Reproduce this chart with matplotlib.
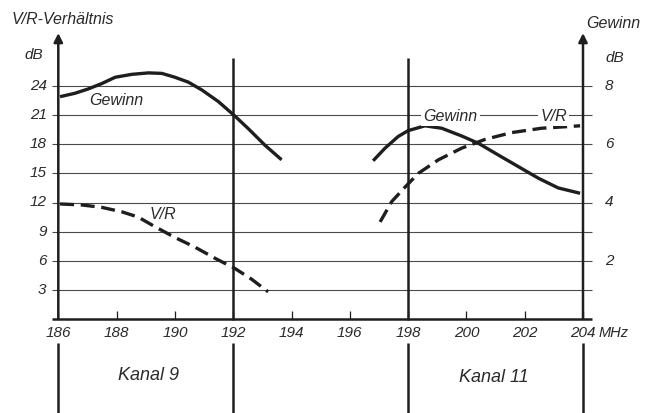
import numpy as np
import matplotlib
matplotlib.use("Agg")
import matplotlib.pyplot as plt

# Kanal 9 (186-192 MHz) and Kanal 11 (198-204 MHz)
k9_freq_gewinn = [186.06, 186.57, 187.03, 187.49, 187.95, 188.52, 189.09, 189.55, 190.0,
                  190.46, 190.92, 191.49, 192.06, 192.52, 193.09, 193.66]
k9_gewinn = [22.9, 23.25, 23.7, 24.25, 24.9, 25.2, 25.35, 25.3, 24.9,
             24.4, 23.6, 22.4, 20.9, 19.6, 17.9, 16.4]
k9_freq_vr = [186.06, 186.8, 187.49, 188.17, 188.74, 189.32, 190.0, 190.69, 191.38,
              192.06, 192.63, 193.2]
k9_vr = [11.85, 11.75, 11.5, 11.05, 10.5, 9.5, 8.4, 7.4, 6.25, 5.2, 4.1, 2.8]

k11_freq_gewinn = [196.8, 197.21, 197.66, 198.0, 198.58, 199.15, 199.84, 200.41, 201.09,
                   201.78, 202.47, 203.15, 203.9]
k11_gewinn = [16.3, 17.6, 18.8, 19.4, 19.9, 19.65, 18.85, 18.1, 16.9, 15.7, 14.5, 13.5, 12.95]
k11_freq_vr = [197.04, 197.44, 197.9, 198.35, 199.04, 199.84, 200.64, 201.55, 202.58, 203.9]
k11_vr = [10.0, 12.1, 13.6, 15.0, 16.4, 17.6, 18.5, 19.2, 19.65, 19.9]

x_ticks = [186, 188, 190, 192, 194, 196, 198, 200, 202, 204]
left_ticks = [3, 6, 9, 12, 15, 18, 21, 24]
right_ticks = [2, 4, 6, 8]          # Gewinn dB = left dB / 3
channel_edges = [186, 192, 198, 204]

ink = '#1e1e1e'
grid_c = '#4a4a4a'
fnt = dict(family=['Liberation Sans', 'DejaVu Sans'], style='italic', color='#2a2a2a')

fig = plt.figure(figsize=(6.57, 4.13), dpi=100)
ax = fig.add_axes([58.3 / 657, 1 - 319 / 413, (583 - 58.3) / 657, (319 - 86) / 413])
ax.set_xlim(186, 204)
ax.set_ylim(0, 24)
ax.axis('off')

# horizontal grid
ax.hlines(left_ticks, 185.78, 204.31, color=grid_c, lw=0.8, clip_on=False, zorder=1)
# x axis line
ax.hlines(0, 185.78, 204.31, color=ink, lw=1.8, clip_on=False, zorder=3)

# small ticks on x axis
for f in x_ticks:
    ax.vlines(f, 0, 0.8, color=ink, lw=0.9, clip_on=False)
    ax.text(f, -1.45, str(f), ha='center', va='center', fontsize=11, **fnt)
ax.text(204.55, -1.45, 'MHz', ha='left', va='center', fontsize=10.5, **fnt)

# vertical lines: axes with arrows, channel borders
for f in [186, 204]:
    ax.annotate('', xy=(f, 29.45), xytext=(f, 0), annotation_clip=False,
                arrowprops=dict(arrowstyle='-|>', lw=1.8, color=ink, mutation_scale=13,
                                shrinkA=0, shrinkB=0))
for f in [192, 198]:
    ax.vlines(f, -0.1, 26.9, color=ink, lw=1.8, clip_on=False, zorder=3)
ax.vlines(channel_edges, -10, -2.45, color=ink, lw=1.8, clip_on=False)

# left tick labels
for v in left_ticks:
    ax.text(185.6, v, str(v), ha='right', va='center', fontsize=11, **fnt)
# right tick labels
for v in right_ticks:
    ax.text(204.9, v * 3, str(v), ha='center', va='center', fontsize=11, **fnt)

# curves
kw = dict(color=ink, lw=2.4, solid_capstyle='butt', solid_joinstyle='round',
          zorder=4, clip_on=False)
ax.plot(k9_freq_gewinn, k9_gewinn, **kw)
ax.plot(k11_freq_gewinn, k11_gewinn, **kw)
ax.plot(k9_freq_vr, k9_vr, ls=(0, (4.2, 2.0)), dash_joinstyle='round', **kw)
ax.plot(k11_freq_vr, k11_vr, ls=(0, (4.2, 2.0)), dash_joinstyle='round', **kw)

# curve labels
ax.text(188.0, 22.55, 'Gewinn', ha='center', va='center', fontsize=11.5, **fnt)
ax.text(189.6, 10.75, 'V/R', ha='center', va='center', fontsize=11.5, **fnt)
ax.text(199.45, 20.9, 'Gewinn', ha='center', va='center', fontsize=11.5, zorder=5,
        bbox=dict(fc='white', ec='none', pad=2), **fnt)
ax.text(203.0, 20.9, 'V/R', ha='center', va='center', fontsize=11.5, zorder=5,
        bbox=dict(fc='white', ec='none', pad=1.5), **fnt)

# axis titles
fig.text(12 / 657, 1 - 20 / 413, 'V/R-Verhältnis', ha='left', va='center', fontsize=11.5, **fnt)
fig.text(34 / 657, 1 - 55 / 413, 'dB', ha='center', va='center', fontsize=11, **fnt)
fig.text(613 / 657, 1 - 23 / 413, 'Gewinn', ha='center', va='center', fontsize=11.5, **fnt)
fig.text(615 / 657, 1 - 58 / 413, 'dB', ha='center', va='center', fontsize=11, **fnt)

# channel names
fig.text(149 / 657, 1 - 376 / 413, 'Kanal 9', ha='center', va='center', fontsize=13, **fnt)
fig.text(494 / 657, 1 - 378 / 413, 'Kanal 11', ha='center', va='center', fontsize=13, **fnt)

fig.savefig('out.png', dpi=100, facecolor='white')
